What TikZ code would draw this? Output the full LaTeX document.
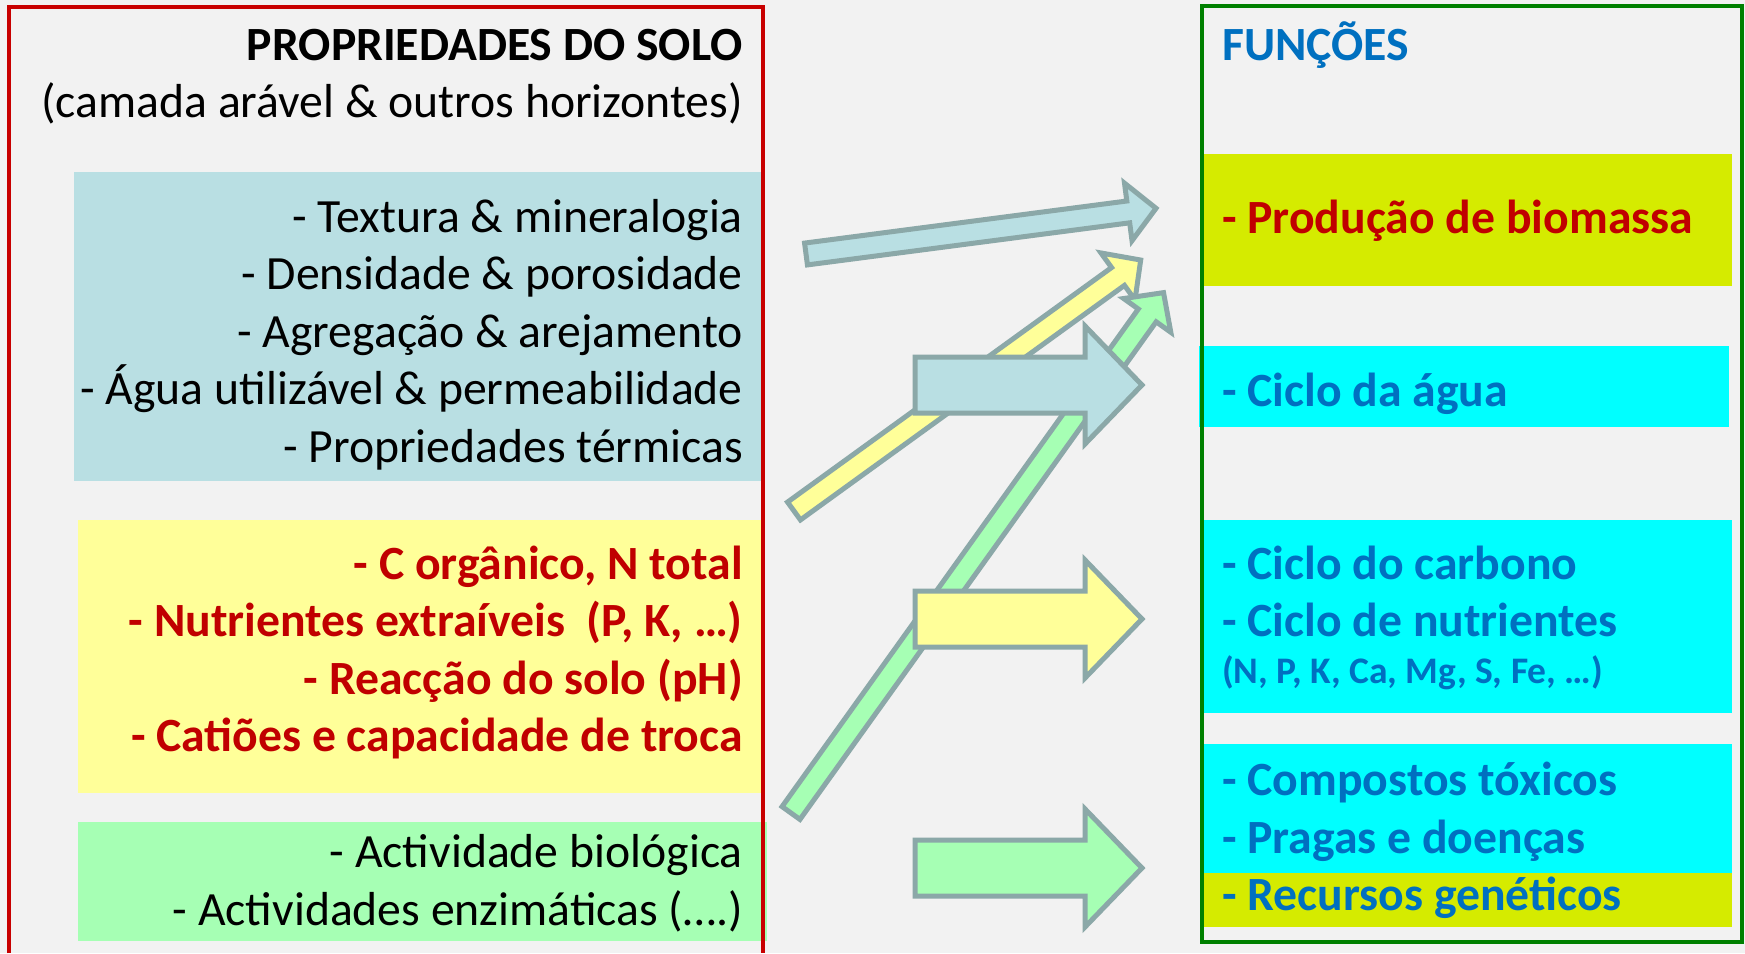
\documentclass[tikz,border=0pt]{standalone}
\usepackage{fontspec}
\setmainfont{Carlito}
\definecolor{bgcol}{HTML}{F2F2F2}
\definecolor{physcol}{HTML}{B9DFE3}
\definecolor{chemcol}{HTML}{FFFF99}
\definecolor{biocol}{HTML}{A6FFB4}
\definecolor{cyancol}{HTML}{00FFFF}
\definecolor{limecol}{HTML}{D5EB00}
\definecolor{redtxt}{HTML}{C00000}
\definecolor{bluetxt}{HTML}{0070C0}
\definecolor{redframe}{HTML}{C80000}
\definecolor{greenframe}{HTML}{008000}
\definecolor{arrowedge}{HTML}{8BA8A8}
\newcommand{\slimarrow}[4]{%
  \draw[arrowshape, fill=#1, shift={(#2)}, rotate=#3]
    (0,-11) -- (#4-28,-11) -- (#4-28,-29) -- (#4,0) -- (#4-28,29) -- (#4-28,11) -- (0,11) -- cycle;}
\newcommand{\blockarrow}[2]{%
  \draw[arrowshape, fill=#1, shift={(#2)}]
    (0,-28) -- (170,-28) -- (170,-59) -- (227,0) -- (170,59) -- (170,28) -- (0,28) -- cycle;}
\begin{document}
\begin{tikzpicture}[x=1pt,y=-1pt,
  box/.style={inner sep=0pt, outer sep=0pt, anchor=north west},
  smallfont/.style={font=\fontsize{37.5}{44}\selectfont\bfseries},
  lefttext/.style={font=\fontsize{47.7}{56}\selectfont, inner sep=0pt, anchor=base east},
  leftbold/.style={lefttext, font=\fontsize{47.7}{56}\selectfont\bfseries},
  righttext/.style={inner sep=0pt, anchor=base west, text=bluetxt, font=\fontsize{47.7}{56}\selectfont\bfseries},
  arrowshape/.style={draw=arrowedge, line width=5pt, line join=miter},
  frame/.style={line width=3.5pt}
]
\useasboundingbox (0,0) rectangle (1745,953);
\fill[bgcol] (0,0) rectangle (1745,953);

% left boxes
\node[box, fill=physcol, minimum width=687pt, minimum height=309pt] (physbox) at (74,172) {};
\node[box, fill=chemcol, minimum width=685pt, minimum height=273pt] (chembox) at (78,520) {};
\node[box, fill=biocol, minimum width=689pt, minimum height=119pt] (biobox) at (78,822) {};

% right boxes
\node[box, fill=limecol, minimum width=529pt, minimum height=132pt] (biomassbox) at (1203,154) {};
\node[box, fill=cyancol, minimum width=530pt, minimum height=81pt] (waterbox) at (1199,346) {};
\node[box, fill=cyancol, minimum width=529pt, minimum height=193pt] (cyclebox) at (1203,520) {};
\node[box, fill=cyancol, minimum width=529pt, minimum height=129pt] (toxbox) at (1203,744) {};
\node[box, fill=limecol, minimum width=529pt, minimum height=54pt] (genbox) at (1203,873) {};

% frames
\draw[frame, draw=redframe] (9,953) -- (9,7) -- (763,7) -- (763,953);
\draw[frame, draw=greenframe] (1202,6) rectangle (1742,942);

% headings
\node[leftbold] (title) at (743,60) {PROPRIEDADES DO SOLO};
\node[lefttext] (subtitle) at (743,117) {(camada arável \& outros horizontes)};
\node[righttext] (funcoes) at (1222,60) {FUNÇÕES};

% physical properties
\node[lefttext] (p1) at (743,232) {- Textura \& mineralogia};
\node[lefttext] (p2) at (743,289.5) {- Densidade \& porosidade};
\node[lefttext] (p3) at (743,347) {- Agregação \& arejamento};
\node[lefttext] (p4) at (743,404.5) {- Água utilizável \& permeabilidade};
\node[lefttext] (p5) at (743,462) {- Propriedades térmicas};

% chemical properties
\node[leftbold, text=redtxt] (c1) at (743,579) {- C orgânico, N total};
\node[leftbold, text=redtxt] (c2) at (743,636.5) {- Nutrientes extraíveis\ \ (P, K, …)};
\node[leftbold, text=redtxt] (c3) at (743,694) {- Reacção do solo (pH)};
\node[leftbold, text=redtxt] (c4) at (743,751.5) {- Catiões e capacidade de troca};

% biological properties
\node[lefttext] (b1) at (743,867) {- Actividade biológica};
\node[lefttext] (b2) at (743,925) {- Actividades enzimáticas (….)};

% functions
\node[righttext, text=redtxt] (f1) at (1222,233) {- Produção de biomassa};
\node[righttext] (f2) at (1222,406) {- Ciclo da água};
\node[righttext] (f3) at (1222,579) {- Ciclo do carbono};
\node[righttext] (f4) at (1222,636) {- Ciclo de nutrientes};
\node[righttext, smallfont] (f5) at (1222,683) {(N, P, K, Ca, Mg, S, Fe, …)};
\node[righttext] (f6) at (1222,795) {- Compostos tóxicos};
\node[righttext] (f7) at (1222,853) {- Pragas e doenças};
\node[righttext] (f8) at (1222,910) {- Recursos genéticos};

% arrows
\coordinate (a1) at (806,254);
\coordinate (a2) at (794,511);
\coordinate (a3) at (791,813);
\coordinate (a4) at (915,385);
\coordinate (a5) at (915,619);
\coordinate (a6) at (915,868);
\slimarrow{physcol}{a1}{7.44}{353}
\slimarrow{chemcol}{a2}{35.9}{428}
\slimarrow{biocol}{a3}{54.4}{640}
\blockarrow{physcol}{a4}
\blockarrow{chemcol}{a5}
\blockarrow{biocol}{a6}
\end{tikzpicture}
\end{document}
